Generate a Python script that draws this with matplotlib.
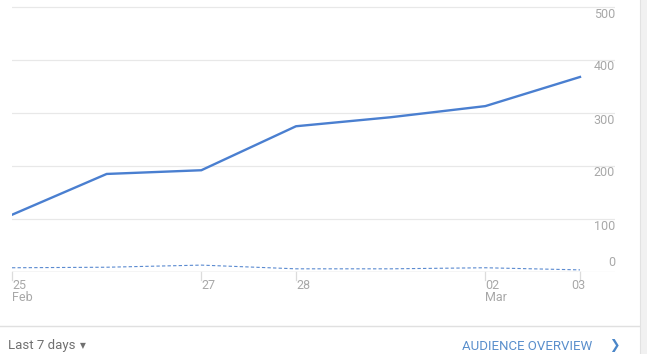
import matplotlib.pyplot as plt

plt.rcParams['font.family'] = ['Roboto', 'DejaVu Sans']

# Daily users, 25 Feb - 03 Mar
days = [0, 1, 2, 3, 4, 5, 6]
users = [108, 185, 192, 275, 292, 313, 368]
new_users = [8, 9, 13, 6, 6, 8, 4]
tick_days = [0, 2, 3, 5, 6]
tick_labels = ['25\nFeb', '27', '28', '02\nMar', '03']
y_ticks = [0, 100, 200, 300, 400, 500]

W, H = 647, 354
fig = plt.figure(figsize=(W / 100, H / 100), dpi=100)

# axes: left 12 px, right 615 px, top 0, bottom 272 px
x0, x1 = 12, 615
yb = 272
ax = fig.add_axes([x0 / W, 1 - yb / H, (x1 - x0) / W, yb / H])
px_day = (580 - 12) / 6
ax.set_xlim(0, (x1 - x0) / px_day)
px_unit = 53 / 100
ax.set_ylim(0, yb / px_unit)
for s in ax.spines.values():
    s.set_visible(False)
ax.set_xticks([])
ax.set_yticks([])
ax.patch.set_alpha(0)

for v in y_ticks:
    ax.axhline(v, color='#e8e8e8', lw=0.9, zorder=0)
ax.axhline(0, xmax=6 / ax.get_xlim()[1], color='#dadada', lw=1, zorder=1)

ax.plot(days, users, color='#4a7fd0', lw=1.7, zorder=3)
ax.plot(days, new_users, color='#5a8ad0', lw=0.8, ls=(0, (3, 2)), zorder=3)

# y labels on the right
for v in y_ticks:
    dy = 9 if v == 0 else -7
    ax.annotate(str(v), (ax.get_xlim()[1], v), xytext=(0, dy), textcoords='offset pixels',
                ha='right', va='center', fontsize=9, color='#a8a8a8',
                annotation_clip=False)

# x ticks and labels
for d, lab in zip(tick_days, tick_labels):
    ax.plot([d, d], [0, -8 / px_unit], color='#dcdcdc', lw=0.9, clip_on=False)
    ha = 'right' if d == 6 else 'left'
    xo = 5 if d == 6 else 0
    ax.annotate(lab, (d, 0), xytext=(xo, -7), textcoords='offset pixels',
                ha=ha, va='top', fontsize=9, color='#a8a8a8', linespacing=0.9,
                annotation_clip=False)

# footer
fig.add_artist(plt.Line2D([0, 639 / W], [1 - 326 / H] * 2, color='#e0e0e0', lw=1))
fig.add_artist(plt.Rectangle((640 / W, 0), 7 / W, 1, color='#f1f1f1', lw=0))
fig.add_artist(plt.Line2D([640 / W] * 2, [0, 1], color='#e2e2e2', lw=0.8))
fig.text(8 / W, 1 - 346 / H, 'Last 7 days', fontsize=9.5, color='#707070',
         ha='left', va='center')
fig.text(83 / W, 1 - 345.5 / H, '\u25bc', fontsize=5.5, color='#707070',
         ha='center', va='center', family=['DejaVu Sans'])
fig.text(592 / W, 1 - 346 / H, 'AUDIENCE OVERVIEW', fontsize=9.5, color='#5a8fcc',
         ha='right', va='center')
fig.text(614 / W, 1 - 346 / H, '\u276f', fontsize=9, color='#4a86c8',
         ha='center', va='center', family=['DejaVu Sans'], weight='bold')

fig.savefig('out.png', dpi=100)
